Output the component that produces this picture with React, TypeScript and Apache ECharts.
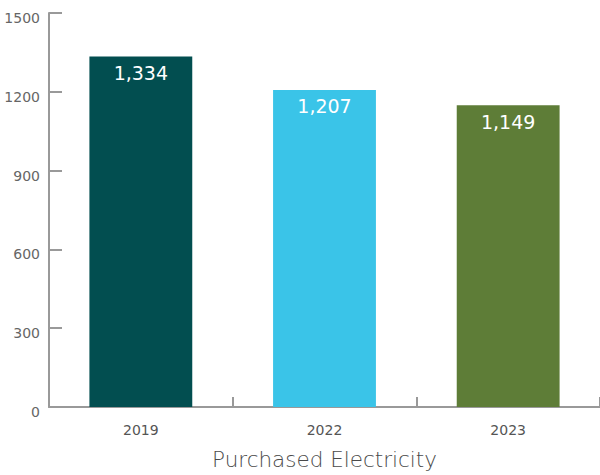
import React, { useEffect, useRef } from "react";
import * as echarts from "echarts";

const categories = ["2019", "2022", "2023"];
const values = [1334, 1207, 1149];
const barColors = ["#024E50", "#3AC4E8", "#5E7D37"];
const axisName = "Purchased Electricity";

const FONT = "'DejaVu Sans', sans-serif";

export default function App() {
  const ref = useRef<HTMLDivElement>(null);
  useEffect(() => {
    if (!ref.current) return;
    const chart = echarts.init(ref.current, undefined, { renderer: "svg" });
    chart.setOption({
      animation: false,
      textStyle: { fontFamily: FONT },
      grid: { left: 49, right: -2, top: 13, bottom: 61, containLabel: false },
      xAxis: {
        type: "category",
        data: categories,
        name: axisName,
        nameLocation: "middle",
        nameGap: 41,
        nameTextStyle: { color: "#4a4a4a", fontSize: 21.5, fontFamily: FONT, fontWeight: 300 },
        axisLine: { lineStyle: { color: "#999", width: 2 } },
        axisTick: { show: true, inside: true, length: 10, lineStyle: { color: "#999", width: 2 } },
        axisLabel: { color: "#555", fontSize: 14, margin: 16 },
      },
      yAxis: {
        type: "value",
        min: 0,
        max: 1500,
        interval: 300,
        axisLine: { show: true, lineStyle: { color: "#999", width: 2 } },
        axisTick: { show: true, inside: true, length: 13, lineStyle: { color: "#999", width: 2 } },
        axisLabel: {
          color: "#666",
          fontSize: 14,
          margin: 9,
          verticalAlign: "top",
          lineHeight: 10,
          formatter: (v: number) => String(v),
        },
        splitLine: { show: false },
      },
      series: [
        {
          type: "bar",
          barWidth: "56%",
          data: values.map((v, i) => ({ value: v, itemStyle: { color: barColors[i] } })),
          label: {
            show: true,
            position: "insideTop",
            distance: 7,
            color: "#fff",
            fontSize: 19,
            fontWeight: 500,
            fontFamily: FONT,
            formatter: (p: any) => p.value.toLocaleString("en-US"),
          },
        },
      ],
    });
    return () => chart.dispose();
  }, []);
  return <div ref={ref} style={{ width: 600, height: 475, position: "absolute", left: 0, top: 0 }} />;
}
